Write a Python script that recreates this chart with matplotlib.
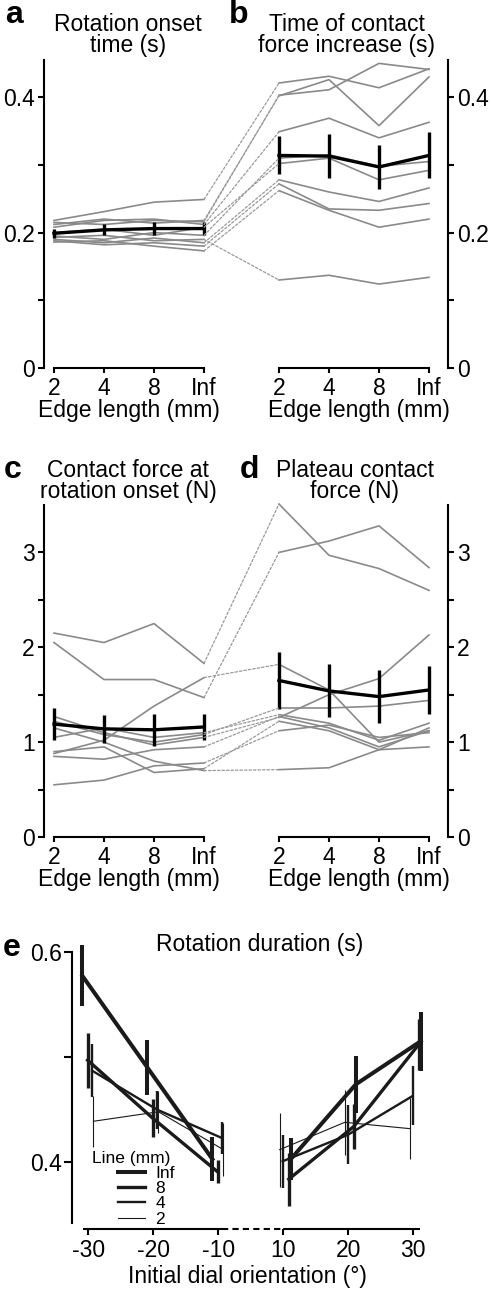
import numpy as np
import matplotlib.pyplot as plt
from matplotlib.lines import Line2D
from matplotlib.patches import ConnectionPatch

plt.rcParams['font.family'] = ['Liberation Sans', 'DejaVu Sans']
plt.rcParams['font.size'] = 16.5
plt.rcParams['axes.linewidth'] = 1.5


# Edge-length conditions (panels a-d)

edge_labels = ['2', '4', '8', 'Inf']

# a: rotation onset time (s), one row per participant
onset_time = [
    [0.218, 0.231, 0.245, 0.249],
    [0.215, 0.212, 0.218, 0.216],
    [0.212, 0.220, 0.214, 0.218],
    [0.208, 0.218, 0.220, 0.212],
    [0.200, 0.205, 0.196, 0.208],
    [0.195, 0.190, 0.200, 0.196],
    [0.190, 0.185, 0.192, 0.185],
    [0.188, 0.182, 0.185, 0.180],
    [0.186, 0.188, 0.180, 0.173],
    [0.193, 0.196, 0.188, 0.190],
]
onset_mean = [0.199, 0.204, 0.206, 0.206]
onset_sem = [0.007, 0.008, 0.009, 0.009]

# b: time of contact force increase (s)
increase_time = [
    [0.421, 0.431, 0.414, 0.442],
    [0.403, 0.411, 0.450, 0.441],
    [0.402, 0.426, 0.358, 0.430],
    [0.349, 0.369, 0.340, 0.363],
    [0.302, 0.310, 0.278, 0.292],
    [0.310, 0.315, 0.298, 0.305],
    [0.278, 0.260, 0.246, 0.266],
    [0.272, 0.235, 0.233, 0.243],
    [0.262, 0.233, 0.208, 0.220],
    [0.130, 0.137, 0.124, 0.134],
]
increase_mean = [0.314, 0.313, 0.297, 0.314]
increase_sem = [0.028, 0.032, 0.032, 0.034]

# c: contact force at rotation onset (N)
onset_force = [
    [2.15, 2.05, 2.25, 1.83],
    [2.05, 1.66, 1.66, 1.47],
    [0.88, 1.02, 1.38, 1.68],
    [1.27, 1.10, 0.97, 1.05],
    [1.22, 1.08, 1.00, 1.08],
    [1.05, 1.15, 1.05, 1.10],
    [0.85, 0.82, 0.92, 0.95],
    [0.90, 0.95, 0.68, 0.72],
    [0.55, 0.60, 0.75, 0.78],
    [1.15, 1.00, 0.80, 0.70],
]
onset_force_mean = [1.19, 1.14, 1.13, 1.16]
onset_force_sem = [0.17, 0.15, 0.17, 0.14]

# d: plateau contact force (N)
plateau_force = [
    [3.51, 2.97, 2.83, 2.60],
    [3.00, 3.12, 3.28, 2.84],
    [1.82, 1.55, 1.00, 1.12],
    [1.26, 1.50, 1.67, 2.13],
    [1.36, 1.36, 1.38, 1.44],
    [1.29, 1.20, 1.02, 1.20],
    [1.27, 1.15, 0.95, 1.12],
    [1.22, 1.12, 0.92, 1.15],
    [1.12, 1.18, 1.05, 1.10],
    [0.71, 0.73, 0.92, 0.95],
]
plateau_mean = [1.65, 1.54, 1.48, 1.55]
plateau_sem = [0.30, 0.28, 0.28, 0.25]


# e: rotation duration (s) vs initial dial orientation

orientation_labels = ['-30', '-20', '-10', '10', '20', '30']
line_labels = ['Inf', '8', '4', '2']

duration_inf = [0.577, 0.490, 0.403, 0.403, 0.474, 0.515]
duration_8 = [0.497, 0.442, 0.391, 0.384, 0.434, 0.512]
duration_4 = [0.487, 0.450, 0.423, 0.401, 0.426, 0.463]
duration_2 = [0.439, 0.448, 0.412, 0.412, 0.438, 0.432]

sem_inf = [0.029, 0.026, 0.021, 0.020, 0.027, 0.028]
sem_8 = [0.026, 0.018, 0.011, 0.025, 0.021, 0.024]
sem_4 = [0.025, 0.018, 0.015, 0.025, 0.028, 0.028]
sem_2 = [0.024, 0.020, 0.025, 0.035, 0.031, 0.029]


# Styles

GRAY = '#8a8a8a'
DASH_GRAY = '#9a9a9a'
DARK = '#1a1a1a'

W, H = 491.0, 1290.0


def box(left, top, right, bottom):
    return [left / W, 1 - bottom / H, (right - left) / W, (bottom - top) / H]


def fig_text(x, y, s, **kw):
    fig.text(x / W, 1 - y / H, s, **kw)


fig = plt.figure(figsize=(W / 100, H / 100), dpi=100)


def edge_panel(rect, rows, mean, sem, ylim, major, major_labels, minor, side):
    ax = fig.add_axes(rect)
    x = np.arange(len(edge_labels))

    for row in rows:
        ax.plot(x, row, color=GRAY, lw=1.2, clip_on=False)

    ax.errorbar(
        x, mean, yerr=sem,
        color='k', lw=2.4, elinewidth=2.4, capsize=0,
        clip_on=False, zorder=5
    )

    ax.set_ylim(*ylim)
    ax.set_yticks(major)
    ax.set_yticklabels(major_labels)
    ax.set_yticks(minor, minor=True)

    ax.set_xticks(x)
    ax.set_xticklabels(edge_labels)
    ax.set_xlabel('Edge length (mm)', labelpad=-1)

    ax.spines['top'].set_visible(False)
    ax.spines['bottom'].set_bounds(0, 3)

    if side == 'left':
        ax.set_xlim(-0.2, 3.2)
        ax.spines['right'].set_visible(False)
    else:
        ax.set_xlim(-0.2, 3.38)
        ax.spines['left'].set_visible(False)
        ax.yaxis.tick_right()

    ax.tick_params(axis='y', which='both', length=4.5, width=1.5, pad=2)
    ax.tick_params(axis='x', length=3.5, width=1.5, pad=3)
    ax.patch.set_visible(False)
    return ax


ax_a = edge_panel(
    box(44, 60, 214, 368), onset_time, onset_mean, onset_sem,
    (0, 0.455), [0, 0.2, 0.4], ['0', '0.2', '0.4'], [0.1, 0.3], 'left'
)
ax_b = edge_panel(
    box(269, 60, 448, 368), increase_time, increase_mean, increase_sem,
    (0, 0.455), [0, 0.2, 0.4], ['0', '0.2', '0.4'], [0.1, 0.3], 'right'
)
ax_c = edge_panel(
    box(44, 505, 214, 837), onset_force, onset_force_mean, onset_force_sem,
    (0, 3.5), [0, 1, 2, 3], ['0', '1', '2', '3'], [0.5, 1.5, 2.5], 'left'
)
ax_d = edge_panel(
    box(269, 505, 448, 837), plateau_force, plateau_mean, plateau_sem,
    (0, 3.5), [0, 1, 2, 3], ['0', '1', '2', '3'], [0.5, 1.5, 2.5], 'right'
)


# Dotted lines linking each participant's Inf value to the next panel

for ax_l, ax_r, rows_l, rows_r in [
    (ax_a, ax_b, onset_time, increase_time),
    (ax_c, ax_d, onset_force, plateau_force),
]:
    for row_l, row_r in zip(rows_l, rows_r):
        con = ConnectionPatch(
            xyA=(3, row_l[-1]), coordsA=ax_l.transData,
            xyB=(0, row_r[0]), coordsB=ax_r.transData,
            color=DASH_GRAY, lw=0.9, linestyle=(0, (2, 1.6))
        )
        fig.add_artist(con)


# Panel titles and letters

fig_text(128, 35, 'Rotation onset\ntime (s)', ha='center', va='center',
         linespacing=0.9)
fig_text(347, 35, 'Time of contact\nforce increase (s)', ha='center',
         va='center', linespacing=0.9)
fig_text(128, 481, 'Contact force at\nrotation onset (N)', ha='center',
         va='center', linespacing=0.9)
fig_text(355, 481, 'Plateau contact\nforce (N)', ha='center', va='center',
         linespacing=0.9)
fig_text(260, 945, 'Rotation duration (s)', ha='center', va='center')

for letter, x, y in [('a', 14, 15), ('b', 239, 15), ('c', 13, 470),
                     ('d', 249, 470), ('e', 12, 948)]:
    fig_text(x, y, letter, fontsize=23, fontweight='bold',
             ha='center', va='center')


# Panel e

ax_e = fig.add_axes(box(71.7, 951.7, 423, 1229))
xpos = np.arange(len(orientation_labels))

series = [
    (duration_inf, sem_inf, 2.9, -0.09, 0.115),
    (duration_8, sem_8, 2.4, -0.01, 0.085),
    (duration_4, sem_4, 1.7, 0.06, -0.01),
    (duration_2, sem_2, 0.8, 0.08, -0.055),
]

handles = []
for label, (vals, err, lw, off_l, off_r) in zip(line_labels, series):
    vals = np.asarray(vals)
    err = np.asarray(err)
    for idx, off in [(slice(0, 3), off_l), (slice(3, 6), off_r)]:
        ax_e.errorbar(
            xpos[idx] + off, vals[idx], yerr=err[idx],
            color=DARK, lw=lw, elinewidth=lw, capsize=0, clip_on=False
        )
    handles.append(Line2D([], [], color=DARK, lw=lw, label=label))

ax_e.set_xlim(-0.255, 5.15)
ax_e.set_ylim(0.3367, 0.6)
ax_e.set_yticks([0.4, 0.5, 0.6])
ax_e.set_yticklabels(['0.4', '', '0.6'])
ax_e.set_xticks(xpos)
ax_e.set_xticklabels(orientation_labels)
ax_e.set_xlabel('Initial dial orientation (°)', labelpad=2)

for name in ['top', 'right', 'bottom']:
    ax_e.spines[name].set_visible(False)
ax_e.spines['left'].set_bounds(0.342, 0.6)

# Broken x axis: solid on each side, dotted across the gap
ax_e.hlines(0.3367, -0.08, 2.05, color='k', lw=1.5, clip_on=False)
ax_e.hlines(0.3367, 3.0, 5.1, color='k', lw=1.5, clip_on=False)
ax_e.hlines(0.3367, 2.05, 3.0, color='k', lw=1.5, clip_on=False,
            linestyles=(0, (3, 2)))

ax_e.tick_params(axis='y', length=6, width=1.5, pad=1)
ax_e.tick_params(axis='x', length=4.5, width=1.5, pad=3)
ax_e.patch.set_visible(False)

fig_text(92, 1158, 'Line (mm)', fontsize=12.5, ha='left', va='center')
ax_e.legend(
    handles=handles,
    loc='upper left', bbox_to_anchor=(118 / W, 1 - 1166 / H),
    bbox_transform=fig.transFigure, frameon=False, fontsize=12.5,
    handlelength=1.55, handletextpad=0.6, labelspacing=0.0,
    borderpad=0, borderaxespad=0
)

fig.savefig('out.png', dpi=100)
